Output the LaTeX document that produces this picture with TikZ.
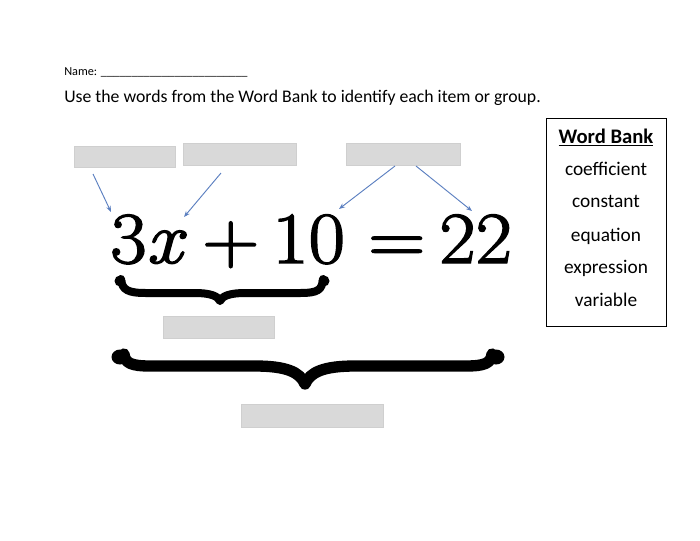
\documentclass[tikz,border=0pt]{standalone}
\usepackage{fontspec}
\setmainfont{Carlito}
\newfontfamily\lmfont{Latin Modern Roman}[FakeBold=2, FakeStretch=1.08]
\usetikzlibrary{arrows.meta}
\definecolor{boxgray}{HTML}{D9D9D9}
\definecolor{boxedge}{HTML}{CFCFCF}
\definecolor{arrblue}{HTML}{5B7FC0}
\tikzset{
  gbox/.style 2 args={draw=boxedge, fill=boxgray, line width=0.5pt, inner sep=0pt,
    minimum width=#1*0.75pt, minimum height=#2*0.75pt},
  arr/.style={draw=arrblue, line width=0.7pt, -{Stealth[length=4.5pt,width=3.5pt]}},
  eqn/.style={inner sep=0pt, anchor=base west, font=\lmfont\fontsize{55}{60}\selectfont},
  wordtxt/.style={inner sep=0pt, anchor=base, font=\fontsize{14.5}{16}\selectfont},
  brace/.style={line cap=round, line join=round, draw=black},
}
\begin{document}
\begin{tikzpicture}[x=0.75pt,y=-0.75pt]
\useasboundingbox (0,0) rectangle (700,540);
% header
\node[inner sep=0pt, anchor=base west, font=\fontsize{9.2}{10}\selectfont] (name) at (64,75.7)
  {Name: \_\_\_\_\_\_\_\_\_\_\_\_\_\_\_\_\_\_\_\_\_\_\_\_};
\node[inner sep=0pt, anchor=base west, font=\fontsize{13.3}{15}\selectfont] (instr) at (64,102)
  {Use the words from the Word Bank to identify each item or group.};
% gray boxes
\node[gbox={101}{21}] (b1) at (124.5,156.5) {};
\node[gbox={113}{22}] (b2) at (239.5,154) {};
\node[gbox={114}{22}] (b3) at (403,154) {};
\node[gbox={111}{22}] (b4) at (218.5,327) {};
\node[gbox={142}{23}] (b5) at (312,415.5) {};
% equation
\node[eqn] (e1) at (110,263) {3};
\node[eqn] (e1x) at (146,263) {\itshape x};
\node[eqn] (e2) at (202,263) {+};
\node[eqn] (e3) at (272,263) {10};
\node[eqn] (e4) at (368,263) {=};
\node[eqn] (e5) at (439,263) {22};
% arrows
\coordinate (a1s) at (93,174);
\coordinate (a1e) at (111,212);
\coordinate (a2s) at (221,173);
\coordinate (a2e) at (184,217);
\coordinate (a3s) at (395,166);
\coordinate (a3e) at (339,209);
\coordinate (a4s) at (416,166);
\coordinate (a4e) at (472,211);
\draw[arr] (a1s) -- (a1e);
\draw[arr] (a2s) -- (a2e);
\draw[arr] (a3s) -- (a3e);
\draw[arr] (a4s) -- (a4e);
% small brace
\draw[brace, line width=6pt]
  (121,279) .. controls (122,290) and (128,293) .. (146,293) -- (195,293)
  .. controls (210,293) and (218,296) .. (220,301)
  .. controls (222,296) and (230,293) .. (245,293) -- (300,293)
  .. controls (318,293) and (322,290) .. (323,279);
\fill (120,281) circle[radius=5.5];
\fill (324,281) circle[radius=5.5];
% big brace
\draw[brace, line width=8.5pt]
  (124,354) .. controls (125,363) and (131,366) .. (150,366) -- (255,366)
  .. controls (286,366) and (300,372) .. (305,384)
  .. controls (310,372) and (324,366) .. (355,366) -- (466,366)
  .. controls (485,366) and (491,363) .. (492,354);
\fill (120,357) ellipse[x radius=8.5, y radius=7.5];
\fill (496,357) ellipse[x radius=8.5, y radius=7.5];
% word bank
\node[draw=black, line width=0.75pt, inner sep=0pt, minimum width=90pt, minimum height=156pt] (wb) at (606,222) {};
\node[wordtxt, font=\fontsize{15.5}{17}\selectfont\bfseries] (wbt) at (606,143) {\underline{Word Bank}};
\node[wordtxt] (w1) at (606,175) {coefficient};
\node[wordtxt] (w2) at (606,207.7) {constant};
\node[wordtxt] (w3) at (606,241) {equation};
\node[wordtxt] (w4) at (606,273) {expression};
\node[wordtxt] (w5) at (606,306.7) {variable};
\end{tikzpicture}
\end{document}
